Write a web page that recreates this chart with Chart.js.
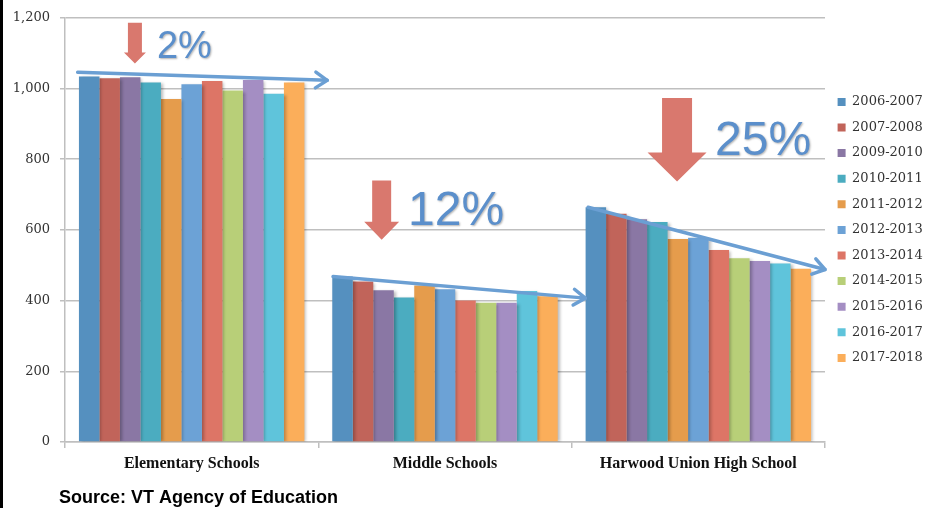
<!DOCTYPE html>
<html>
<head>
<meta charset="utf-8">
<script src="https://cdn.jsdelivr.net/npm/chart.js@4.4.1/dist/chart.umd.min.js"></script>
<style>
  html, body { margin: 0; padding: 0; background: #fff; }
  #wrap { width: 927px; height: 508px; }
</style>
</head>
<body>
<div id="wrap"><canvas id="myChart" width="927" height="508"></canvas></div>
<script>
const schools = ['Elementary Schools', 'Middle Schools', 'Harwood Union High School'];
const years = ['2006-2007', '2007-2008', '2009-2010', '2010-2011', '2011-2012', '2012-2013',
               '2013-2014', '2014-2015', '2015-2016', '2016-2017', '2017-2018'];

// enrollment per year: [elementary, middle, high school]
const y0607 = [1034, 468, 664];
const y0708 = [1029, 454, 646];
const y0910 = [1032, 429, 630];
const y1011 = [1017, 409, 622];
const y1112 = [970, 443, 574];
const y1213 = [1012, 432, 578];
const y1314 = [1021, 400, 543];
const y1415 = [994, 394, 520];
const y1516 = [1024, 394, 512];
const y1617 = [985, 427, 505];
const y1718 = [1017, 412, 490];

const yTicks = [0, 200, 400, 600, 800, 1000, 1200];

// trend line ends and drop labels per school
const trendStart = [1046, 468, 664];
const trendEnd = [1023, 407, 488];
const dropText = ['2%', '12%', '25%'];

const series = [y0607, y0708, y0910, y1011, y1112, y1213, y1314, y1415, y1516, y1617, y1718];
const colors = ['#5590bf', '#c1645a', '#8a77a4', '#4bacc0', '#e59c4c', '#6ca2d6',
                '#dd7566', '#b8cf78', '#a48ec3', '#5fc4db', '#fbae5a'];

// arrow geometry, x as a fraction of the category width from its centre
const trendX = [[-0.45, 0.535], [-0.442, 0.554], [-0.435, 0.50]];
const dropArrows = [
  { x: -0.224, top: 1186, tip: 1071, shaft: 14, head: 22, headH: 11 },
  { x: -0.25, top: 740, tip: 572, shaft: 19, head: 35, headH: 18 },
  { x: -0.084, top: 973, tip: 737, shaft: 30, head: 59, headH: 29 }
];
const dropLabels = [
  { x: -0.137, y: 1085, size: 38 },
  { x: -0.146, y: 614, size: 48 },
  { x: 0.066, y: 813, size: 48 }
];

const annotations = {
  id: 'annotations',
  beforeLayout: (chart) => {
    // keep the legend column a fixed width
    const lg = chart.legend;
    if (lg && !lg._fixedWidth) {
      const fit = lg.fit;
      lg.fit = function () {
        fit.call(this);
        this.width = 102;
      };
      lg._fixedWidth = true;
    }
  },
  beforeDraw: (chart) => {
    const { ctx } = chart;
    ctx.save();
    ctx.fillStyle = '#000';
    ctx.fillRect(0, 0, 3, chart.height);
    ctx.restore();
  },
  beforeDatasetsDraw: (chart) => {
    const { ctx } = chart;
    ctx.save();
    ctx.shadowColor = 'rgba(0,0,0,0.28)';
    ctx.shadowBlur = 3;
    ctx.shadowOffsetX = 2;
    ctx.shadowOffsetY = 1;
  },
  afterDatasetsDraw: (chart) => {
    const { ctx, scales: { x, y } } = chart;
    ctx.restore();
    const catW = x.getPixelForValue(1) - x.getPixelForValue(0);

    schools.forEach((s, i) => {
      const cx = x.getPixelForValue(i);

      // blue trend arrow
      const x1 = cx + trendX[i][0] * catW, y1 = y.getPixelForValue(trendStart[i]);
      const x2 = cx + trendX[i][1] * catW, y2 = y.getPixelForValue(trendEnd[i]);
      const ang = Math.atan2(y2 - y1, x2 - x1);
      ctx.save();
      ctx.strokeStyle = '#6b9fd3';
      ctx.lineWidth = 3.5;
      ctx.lineCap = 'round';
      ctx.lineJoin = 'round';
      ctx.beginPath();
      ctx.moveTo(x1, y1);
      ctx.lineTo(x2, y2);
      ctx.stroke();
      ctx.beginPath();
      ctx.moveTo(x2 - 14 * Math.cos(ang - 0.6), y2 - 14 * Math.sin(ang - 0.6));
      ctx.lineTo(x2, y2);
      ctx.lineTo(x2 - 14 * Math.cos(ang + 0.6), y2 - 14 * Math.sin(ang + 0.6));
      ctx.stroke();
      ctx.restore();

      // red drop arrow
      const a = dropArrows[i];
      const ax = cx + a.x * catW;
      const top = y.getPixelForValue(a.top), tip = y.getPixelForValue(a.tip);
      ctx.save();
      ctx.fillStyle = '#d9786e';
      ctx.beginPath();
      ctx.moveTo(ax - a.shaft / 2, top);
      ctx.lineTo(ax + a.shaft / 2, top);
      ctx.lineTo(ax + a.shaft / 2, tip - a.headH);
      ctx.lineTo(ax + a.head / 2, tip - a.headH);
      ctx.lineTo(ax, tip);
      ctx.lineTo(ax - a.head / 2, tip - a.headH);
      ctx.lineTo(ax - a.shaft / 2, tip - a.headH);
      ctx.closePath();
      ctx.fill();
      ctx.restore();

      // percentage label
      const l = dropLabels[i];
      ctx.save();
      ctx.font = l.size + 'px "Liberation Sans", Arial, sans-serif';
      ctx.fillStyle = '#5b8fcb';
      ctx.textBaseline = 'alphabetic';
      ctx.shadowColor = 'rgba(0,0,0,0.3)';
      ctx.shadowBlur = 2;
      ctx.shadowOffsetX = 1;
      ctx.shadowOffsetY = 1;
      ctx.fillText(dropText[i], cx + l.x * catW, y.getPixelForValue(l.y));
      ctx.restore();
    });

    // source note
    ctx.save();
    ctx.font = 'bold 18px "Liberation Sans", Arial, sans-serif';
    ctx.fillStyle = '#000';
    ctx.textBaseline = 'alphabetic';
    ctx.fillText('Source: VT Agency of Education', 59, 503);
    ctx.restore();
  }
};

const config = {
  type: 'bar',
  data: {
    labels: schools,
    datasets: years.map((yr, i) => ({
      label: yr,
      data: series[i],
      backgroundColor: colors[i],
      borderWidth: 0,
      categoryPercentage: 0.89,
      barPercentage: 1.0
    }))
  },
  options: {
    responsive: false,
    animation: false,
    layout: {
      padding: { top: 14, right: 0, bottom: 0, left: 0 }
    },
    scales: {
      x: {
        grid: {
          drawOnChartArea: false,
          drawTicks: true,
          tickLength: 6,
          color: '#bfbfbf',
          lineWidth: 1.5
        },
        border: { color: '#bfbfbf', width: 1.5 },
        ticks: {
          color: '#111',
          padding: 6,
          font: { family: '"Liberation Serif", serif', size: 16, weight: 'bold' }
        },
        afterFit: (scale) => { scale.height = 66; }
      },
      y: {
        min: 0,
        max: 1200,
        afterBuildTicks: (scale) => { scale.ticks = yTicks.map(v => ({ value: v })); },
        grid: {
          color: '#bfbfbf',
          lineWidth: 1.5,
          tickLength: 5
        },
        border: { color: '#bfbfbf', width: 1.5 },
        ticks: {
          color: '#333',
          padding: 10,
          font: { family: '"DejaVu Serif", serif', size: 13 }
        },
        afterFit: (scale) => { scale.width = 65; }
      }
    },
    plugins: {
      legend: {
        display: true,
        position: 'right',
        fullSize: false,
        labels: {
          boxWidth: 8,
          boxHeight: 8,
          padding: 12.6,
          color: '#333',
          font: { family: '"DejaVu Serif", serif', size: 13 }
        }
      },
      title: { display: false },
      tooltip: { enabled: false }
    }
  },
  plugins: [annotations]
};

var myChart = new Chart(document.getElementById('myChart'), config);
</script>
</body>
</html>
